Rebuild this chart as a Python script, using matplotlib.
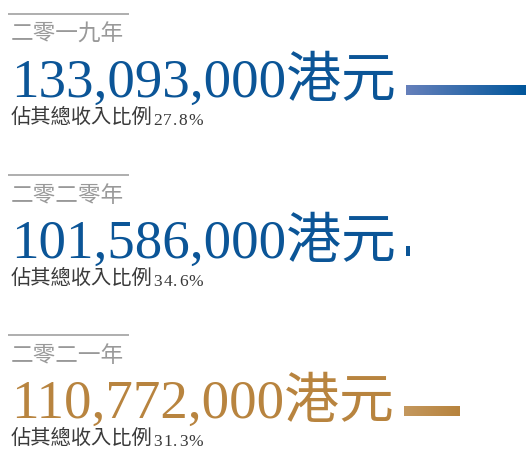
import matplotlib
matplotlib.use("Agg")
import matplotlib.pyplot as plt
import numpy as np
from matplotlib.colors import LinearSegmentedColormap

# ---- data ----
years = ["二零一九年", "二零二零年", "二零二一年"]
values = [133093000, 101586000, 110772000]
shares = [27.8, 34.6, 31.3]
bar_values = [120, 4, 56]          # relative bar lengths
unit = "港元"
share_label = "佔其總收入比例"

# ---- styles ----
num_colors = ["#0b5597", "#0b5597", "#b8843f"]
bar_colors = [("#6680bb", "#00569b"), ("#0b5597", "#0b5597"), ("#c4985e", "#b7833d")]
W, H = 526, 450
fig = plt.figure(figsize=(W / 100, H / 100), dpi=100)
ax = fig.add_axes([0, 0, 1, 1])
ax.set_xlim(0, W)
ax.set_ylim(H, 0)
ax.axis("off")

cjk = ["Noto Sans CJK TC", "DejaVu Sans"]
mixed = ["Liberation Serif", "Noto Sans CJK TC", "DejaVu Sans"]

offsets = [0, 161, 321]
fig.canvas.draw()
renderer = fig.canvas.get_renderer()

for i in range(3):
    oy = offsets[i]
    # gray rule
    ax.plot([8, 129], [13.5 + oy, 13.5 + oy], color="#a8a8a8", lw=1.3, solid_capstyle="butt")
    # year
    ax.text(10.5, 34.5 + oy, years[i], family=cjk, fontsize=16.3, color="#999999",
            va="center", ha="left", fontweight="light")
    # big number
    t = ax.text(11.5, 96.5 + oy, f"{values[i]:,}" + unit, family=mixed, fontsize=39.5,
                color=num_colors[i], va="baseline", ha="left", fontweight="light")
    # subtitle
    s = ax.text(11, 117.5 + oy, share_label, family=cjk, fontsize=14.6, color="#3a3a3a",
                va="center", ha="left")
    fig.canvas.draw()
    x_cur = s.get_window_extent(renderer).x1 + 0.5
    # percentage, letter-spaced
    for ch in f"{shares[i]}%":
        c = ax.text(x_cur, 125 + oy, ch, family=["Liberation Serif"], fontsize=12.5,
                    color="#3a3a3a", va="baseline", ha="left")
        fig.canvas.draw()
        x_cur = c.get_window_extent(renderer).x1 + 1.3
    # bar after number
    tb = t.get_window_extent(renderer)
    x0 = tb.x1 + 10
    y0, y1 = 85.5 + oy, 95.5 + oy
    cmap = LinearSegmentedColormap.from_list(f"g{i}", bar_colors[i])
    grad = np.linspace(0, 1, 256).reshape(1, -1)
    ax.imshow(grad, cmap=cmap, extent=[x0, x0 + bar_values[i], y1, y0],
              aspect="auto", interpolation="bilinear")

ax.set_xlim(0, W)
ax.set_ylim(H, 0)
fig.savefig("out.png", dpi=100, facecolor="white")
